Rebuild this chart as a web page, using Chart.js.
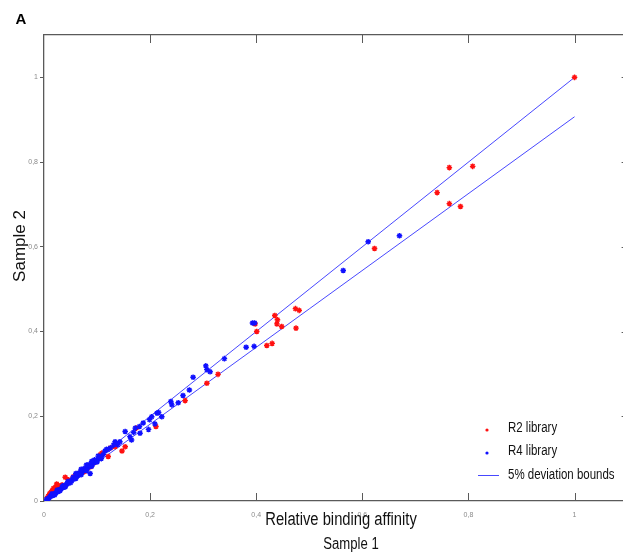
<!DOCTYPE html>
<html>
<head>
<meta charset="utf-8">
<script src="https://cdn.jsdelivr.net/npm/chart.js@4.4.1/dist/chart.umd.min.js"></script>
<style>
html, body { margin: 0; padding: 0; background: #fff; overflow: hidden; }
</style>
</head>
<body>
<canvas id="myChart" width="633" height="559"></canvas>
<script>

// R2 library (red)
var r2X = [1.0, 0.764, 0.808, 0.741, 0.764, 0.785, 0.623,
  0.435, 0.440, 0.439, 0.448, 0.474, 0.481, 0.475, 0.398, 0.401, 0.420, 0.430,
  0.328, 0.307, 0.266, 0.211, 0.174, 0.147, 0.153, 0.134, 0.121, 0.125, 0.109, 0.040,
  0.006, 0.008, 0.010, 0.011, 0.013, 0.015, 0.018, 0.020, 0.022, 0.024, 0.027, 0.030,
  0.034, 0.046, 0.055, 0.062, 0.068, 0.071, 0.076, 0.082, 0.088, 0.093, 0.098, 0.106];
var r2Y = [1.0, 0.787, 0.790, 0.728, 0.702, 0.695, 0.596,
  0.438, 0.428, 0.418, 0.412, 0.454, 0.450, 0.408, 0.418, 0.400, 0.367, 0.372,
  0.299, 0.278, 0.237, 0.176, 0.172, 0.118, 0.128, 0.128, 0.105, 0.125, 0.113, 0.056,
  0.007, 0.011, 0.015, 0.018, 0.020, 0.024, 0.030, 0.027, 0.033, 0.040, 0.036, 0.035,
  0.038, 0.050, 0.057, 0.060, 0.066, 0.073, 0.069, 0.077, 0.081, 0.089, 0.093, 0.109];

// R4 library (blue)
var r4X = [0.611, 0.670, 0.564,
  0.393, 0.397, 0.381, 0.396, 0.340, 0.305, 0.307, 0.313, 0.281, 0.274, 0.262, 0.253, 0.239, 0.241,
  0.222, 0.216, 0.213, 0.203, 0.199, 0.197, 0.209, 0.187, 0.180, 0.172, 0.169, 0.181, 0.153, 0.162,
  0.165, 0.143, 0.134, 0.139, 0.131, 0.125, 0.118, 0.087,
  0.005, 0.008, 0.010, 0.012, 0.014, 0.016, 0.018, 0.020, 0.022, 0.024, 0.026, 0.028, 0.030,
  0.032, 0.034, 0.036, 0.038, 0.040, 0.042, 0.044, 0.046, 0.048, 0.050, 0.052, 0.054, 0.056,
  0.058, 0.060, 0.062, 0.064, 0.066, 0.068, 0.070, 0.072, 0.074, 0.076, 0.078, 0.080, 0.082,
  0.084, 0.086, 0.088, 0.090, 0.092, 0.095, 0.098, 0.100, 0.104, 0.108, 0.112,
  0.015, 0.025, 0.035, 0.045, 0.055, 0.065, 0.075, 0.085, 0.095, 0.020, 0.030, 0.040, 0.050,
  0.060, 0.070, 0.080, 0.090, 0.100, 0.108, 0.115, 0.120, 0.060, 0.070, 0.080, 0.090, 0.102];
var r4Y = [0.612, 0.626, 0.544,
  0.420, 0.420, 0.363, 0.365, 0.336, 0.319, 0.310, 0.305, 0.292, 0.262, 0.249, 0.232, 0.235, 0.227,
  0.199, 0.209, 0.207, 0.199, 0.192, 0.169, 0.182, 0.184, 0.176, 0.172, 0.162, 0.160, 0.164, 0.152,
  0.144, 0.140, 0.140, 0.133, 0.132, 0.125, 0.122, 0.065,
  0.004, 0.006, 0.008, 0.011, 0.012, 0.013, 0.016, 0.017, 0.019, 0.022, 0.022, 0.025, 0.027,
  0.028, 0.031, 0.032, 0.035, 0.036, 0.039, 0.040, 0.043, 0.044, 0.047, 0.048, 0.051, 0.052,
  0.055, 0.056, 0.059, 0.060, 0.063, 0.064, 0.067, 0.068, 0.071, 0.073, 0.074, 0.077, 0.078,
  0.081, 0.083, 0.084, 0.087, 0.089, 0.091, 0.095, 0.097, 0.101, 0.106, 0.110,
  0.017, 0.026, 0.036, 0.046, 0.056, 0.066, 0.076, 0.086, 0.097, 0.014, 0.024, 0.033, 0.043,
  0.053, 0.062, 0.072, 0.082, 0.092, 0.100, 0.118, 0.121, 0.065, 0.075, 0.085, 0.094, 0.106];

// 5% deviation bounds
var boundX = [0, 1];
var upperY = [0, 1];
var lowerY = [0, 0.907];

var axisTicks = [0, 0.2, 0.4, 0.6, 0.8, 1];
var xTitle = ['Relative binding affinity', 'Sample 1'];
var yTitle = 'Sample 2';

function pts(xs, ys) {
  return xs.map(function (x, i) { return {x: x, y: ys[i]}; });
}

function fmt(v) {
  return String(Math.round(v * 10) / 10).replace('.', ',');
}

var sans = "'Liberation Sans', Arial, sans-serif";
var axisColor = '#5a5a5a';

// the original uses a condensed face; squeeze Liberation Sans to match
function narrowText(ctx, text, x, y, align) {
  ctx.save();
  ctx.translate(x, y);
  ctx.scale(0.82, 1);
  ctx.textAlign = align;
  ctx.fillText(text, 0, 0);
  ctx.restore();
}

var extras = {
  id: 'extras',
  afterDraw: function (chart) {
    var ctx = chart.ctx, a = chart.chartArea;
    var xs = chart.scales.x, ys = chart.scales.y;
    ctx.save();
    // inward ticks on top, bottom and right
    ctx.strokeStyle = axisColor;
    ctx.lineWidth = 1;
    ctx.beginPath();
    axisTicks.forEach(function (v) {
      if (v === 0) return;
      var px = Math.round(xs.getPixelForValue(v)) + 0.5;
      ctx.moveTo(px, a.bottom); ctx.lineTo(px, a.bottom - 8);
      ctx.moveTo(px, a.top); ctx.lineTo(px, a.top + 8);
      var py = Math.round(ys.getPixelForValue(v)) + 0.5;
      ctx.moveTo(a.right, py); ctx.lineTo(a.right - 6, py);
    });
    ctx.stroke();

    // panel letter
    ctx.fillStyle = '#000';
    ctx.font = 'bold 15px ' + sans;
    ctx.textBaseline = 'middle';
    ctx.textAlign = 'center';
    ctx.fillText('A', 21, 20);

    // y title
    ctx.save();
    ctx.translate(20, 246);
    ctx.rotate(-Math.PI / 2);
    ctx.fillStyle = '#111';
    ctx.font = '17px ' + sans;
    ctx.textAlign = 'center';
    ctx.fillText(yTitle, 0, 0);
    ctx.restore();

    // x title, two lines
    ctx.fillStyle = '#111';
    ctx.font = '18px ' + sans;
    narrowText(ctx, xTitle[0], 341, 520, 'center');
    ctx.font = '16px ' + sans;
    narrowText(ctx, xTitle[1], 351, 545, 'center');

    // legend
    var rows = [428, 451, 475];
    ctx.font = '14px ' + sans;
    var ds = chart.data.datasets.filter(function (d) { return d.label; });
    ds.forEach(function (d, i) {
      var y = rows[i];
      if (d.type === 'line') {
        ctx.strokeStyle = d.borderColor;
        ctx.lineWidth = 1;
        ctx.beginPath();
        ctx.moveTo(478, y + 0.5); ctx.lineTo(499, y + 0.5);
        ctx.stroke();
      } else {
        ctx.fillStyle = d.backgroundColor;
        ctx.beginPath();
        ctx.arc(487, y + 2, 1.6, 0, Math.PI * 2);
        ctx.fill();
      }
      ctx.fillStyle = '#111';
      narrowText(ctx, d.label, 508, y, 'left');
    });
    ctx.restore();
  }
};

new Chart('myChart', {
  type: 'scatter',
  data: {
    datasets: [{
      label: 'R2 library',
      data: pts(r2X, r2Y),
      backgroundColor: '#ff1010',
      borderColor: '#ff1010',
      pointStyle: 'star',
      pointRadius: 2.8,
      borderWidth: 1.4,
      order: 2
    }, {
      label: 'R4 library',
      data: pts(r4X, r4Y),
      backgroundColor: '#1010ff',
      borderColor: '#1010ff',
      pointStyle: 'star',
      pointRadius: 2.8,
      borderWidth: 1.4,
      order: 1
    }, {
      type: 'line',
      label: '5% deviation bounds',
      data: pts(boundX, upperY),
      borderColor: 'rgba(40,40,255,0.85)',
      borderWidth: 1,
      pointRadius: 0,
      fill: false,
      order: 3
    }, {
      type: 'line',
      data: pts(boundX, lowerY),
      borderColor: 'rgba(40,40,255,0.85)',
      borderWidth: 1,
      pointRadius: 0,
      fill: false,
      order: 3
    }]
  },
  options: {
    responsive: false,
    animation: false,
    layout: {padding: {top: 35, left: 0, right: 0, bottom: 0}},
    plugins: {legend: {display: false}, tooltip: {enabled: false}},
    scales: {
      x: {
        type: 'linear', position: 'bottom', min: 0, max: 1.1,
        afterBuildTicks: function (s) { s.ticks = axisTicks.map(function (v) { return {value: v}; }); },
        afterFit: function (s) { s.height = 58; },
        grid: {display: false},
        border: {display: true, color: axisColor, width: 1.3},
        ticks: {padding: 2, color: '#8a8a8a', font: {size: 7, family: 'Liberation Sans'}, callback: fmt, maxRotation: 0}
      },
      x2: {
        type: 'linear', position: 'top', min: 0, max: 1.1,
        afterFit: function (s) { s.height = 0; },
        grid: {display: false},
        border: {display: true, color: axisColor, width: 1.3},
        ticks: {display: false}
      },
      y: {
        type: 'linear', position: 'left', min: 0, max: 1.1,
        afterBuildTicks: function (s) { s.ticks = axisTicks.map(function (v) { return {value: v}; }); },
        afterFit: function (s) { s.width = 44; },
        grid: {display: true, drawOnChartArea: false, drawTicks: true, tickLength: 4, color: axisColor},
        border: {display: true, color: axisColor, width: 1.3},
        ticks: {padding: 2, color: '#8a8a8a', font: {size: 7, family: 'Liberation Sans'}, callback: fmt}
      },
      y2: {
        type: 'linear', position: 'right', min: 0, max: 1.1,
        afterFit: function (s) { s.width = 0; },
        grid: {display: false},
        border: {display: true, color: axisColor, width: 1.3},
        ticks: {display: false}
      }
    }
  },
  plugins: [extras]
});
</script>
</body>
</html>
